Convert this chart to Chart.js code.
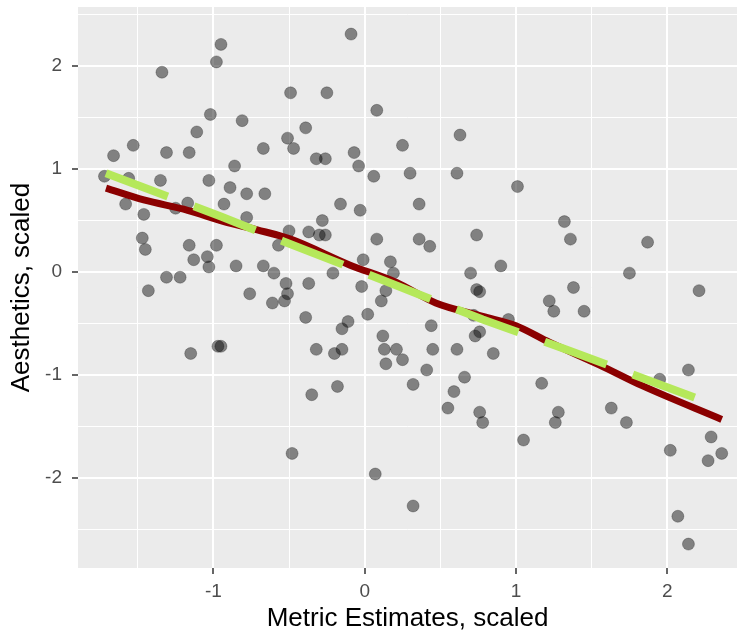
<!DOCTYPE html>
<html>
<head>
<meta charset="utf-8">
<script src="https://cdn.jsdelivr.net/npm/chart.js@4/dist/chart.umd.min.js"></script>
<style>
  html, body { margin: 0; padding: 0; background: #ffffff; }
  #wrap { width: 744px; height: 633px; }
</style>
</head>
<body>
<div id="wrap"><canvas id="c" width="744" height="633"></canvas></div>
<script>
// ---- data ----
const metricX = [
  -0.95,-0.98,-1.34,-0.49,-1.02,-0.81,-1.11,-0.51,-0.47,-1.53,-1.66,-1.31,-1.16,-0.67,-0.86,-1.72,-1.56,-1.35,-1.03,-0.89,-0.78,-0.66,
  -0.09,-0.25,0.08,-0.39,0.63,0.25,-0.32,-0.26,-0.07,-0.04,0.06,0.30,0.61,1.01,
  -1.58,-1.46,-1.25,-1.17,-0.93,-0.78,-0.50,-0.57,-1.47,-1.45,-1.16,-0.98,-1.13,-1.04,-1.03,-0.85,-0.67,-0.60,-1.31,-1.22,-0.52,-0.51,-0.53,-0.61,-0.76,-1.43,-0.97,-0.95,-1.15,
  -0.16,-0.03,0.36,-0.28,-0.37,-0.30,-0.26,0.08,0.36,0.43,0.74,-0.01,0.17,0.19,-0.21,-0.37,-0.02,0.14,0.11,0.70,0.90,0.74,0.76,
  -0.39,-0.11,-0.15,0.02,0.44,0.72,0.76,0.73,0.95,0.12,-0.32,-0.20,-0.15,0.13,0.21,0.25,0.14,0.45,0.61,0.85,0.41,0.66,0.32,-0.18,
  1.32,1.36,1.87,1.75,2.21,1.38,1.22,1.25,1.45,1.17,1.95,2.14,
  -0.48,-0.35,0.59,0.55,0.76,0.78,0.07,0.32,
  1.28,1.26,1.63,1.73,1.05,2.29,2.02,2.36,2.27,2.07,2.14
];
const aestheticsY = [
  2.21,2.04,1.94,1.74,1.53,1.47,1.36,1.30,1.20,1.23,1.13,1.16,1.16,1.20,1.03,0.93,0.91,0.89,0.89,0.82,0.76,0.76,
  2.31,1.74,1.57,1.40,1.33,1.23,1.10,1.10,1.16,1.03,0.93,0.96,0.96,0.83,
  0.66,0.56,0.62,0.67,0.66,0.53,0.40,0.26,0.33,0.22,0.26,0.26,0.12,0.15,0.05,0.06,0.06,-0.01,-0.05,-0.05,-0.11,-0.21,-0.28,-0.30,-0.21,-0.18,-0.72,-0.72,-0.79,
  0.66,0.60,0.66,0.50,0.39,0.36,0.36,0.32,0.32,0.25,0.36,0.12,0.10,-0.01,-0.01,-0.11,-0.14,-0.18,-0.28,-0.01,0.06,-0.17,-0.19,
  -0.44,-0.48,-0.55,-0.41,-0.52,-0.42,-0.58,-0.62,-0.46,-0.62,-0.75,-0.79,-0.75,-0.75,-0.75,-0.85,-0.89,-0.75,-0.75,-0.79,-0.95,-1.02,-1.09,-1.11,
  0.49,0.32,0.29,-0.01,-0.18,-0.15,-0.28,-0.38,-0.38,-1.08,-1.04,-0.95,
  -1.76,-1.19,-1.16,-1.32,-1.36,-1.46,-1.96,-2.27,
  -1.36,-1.46,-1.32,-1.46,-1.63,-1.60,-1.73,-1.76,-1.83,-2.37,-2.64
];
// smooth (dark red) curve
const smoothX = [-1.71,-1.46,-1.17,-0.93,-0.71,-0.49,-0.10,0.21,0.47,0.78,1.00,1.22,1.55,1.83,2.36];
const smoothY = [0.815,0.70,0.60,0.49,0.41,0.32,0.07,-0.10,-0.30,-0.43,-0.52,-0.68,-0.90,-1.10,-1.43];
// dashed (green) line
const dashX = [-1.71,-0.95,-0.54,0.21,0.78,1.35,2.33];
const dashY = [0.96,0.54,0.30,-0.13,-0.46,-0.76,-1.30];
// axis labels
const xTickLabels = [-1, 0, 1, 2];
const yTickLabels = [-2, -1, 0, 1, 2];
const xTitle = 'Metric Estimates, scaled';
const yTitle = 'Aesthetics, scaled';

// ---- build chart ----
const toXY = (xs, ys) => xs.map((x, i) => ({x: x, y: ys[i]}));

const panelBg = {
  id: 'panelBg',
  beforeDraw(chart) {
    const {ctx, chartArea: a} = chart;
    ctx.save();
    ctx.fillStyle = '#EBEBEB';
    ctx.fillRect(a.left, a.top, a.right - a.left, a.bottom - a.top);
    ctx.restore();
  }
};

const isMajor = (v, list) => list.some(t => Math.abs(t - v) < 1e-9);

function axisOpts(labels, title, titlePad, tickPad, fitFn, min, max) {
  return {
    type: 'linear',
    min: min, max: max,
    border: { display: false },
    grid: {
      color: '#FFFFFF',
      lineWidth: c => (c.tick && Math.abs(c.tick.value % 1) < 1e-9) ? 2 : 1,
      drawTicks: true,
      tickLength: 6,
      tickColor: c => (c.tick && isMajor(c.tick.value, labels)) ? '#333333' : 'rgba(0,0,0,0)',
      tickWidth: 1.5
    },
    ticks: {
      stepSize: 0.5,
      includeBounds: false,
      autoSkip: false,
      maxRotation: 0,
      padding: tickPad,
      color: '#4D4D4D',
      font: { family: '"Liberation Sans", Arial, sans-serif', size: 19 },
      callback: v => isMajor(v, labels) ? String(v) : ''
    },
    title: {
      display: true,
      text: title,
      color: '#000000',
      font: { family: '"Liberation Sans", Arial, sans-serif', size: 26, lineHeight: 1 },
      padding: titlePad
    },
    afterFit: s => {
      fitFn(s);
      s.paddingTop = 0; s.paddingBottom = 0; s.paddingLeft = 0; s.paddingRight = 0;
    }
  };
}

new Chart(document.getElementById('c'), {
  type: 'scatter',
  data: {
    datasets: [
      {
        type: 'line',
        data: toXY(dashX, dashY),
        borderColor: '#B5E85A',
        borderWidth: 8,
        borderDash: [66, 28],
        borderCapStyle: 'butt',
        pointRadius: 0,
        fill: false,
        tension: 0,
        order: 0
      },
      {
        type: 'line',
        data: toXY(smoothX, smoothY),
        borderColor: '#8B0000',
        borderWidth: 7,
        pointRadius: 0,
        fill: false,
        cubicInterpolationMode: 'monotone',
        order: 1
      },
      {
        data: toXY(metricX, aestheticsY),
        backgroundColor: 'rgba(0,0,0,0.45)',
        borderColor: 'rgba(0,0,0,0.25)',
        borderWidth: 1,
        pointRadius: 6,
        order: 2
      }
    ]
  },
  options: {
    responsive: false,
    animation: false,
    devicePixelRatio: 1,
    layout: { padding: { left: 0, right: 4, top: 5, bottom: 0 } },
    plugins: { legend: { display: false }, tooltip: { enabled: false } },
    scales: {
      x: axisOpts(xTickLabels, xTitle, { top: 0, bottom: 1 }, 6, s => { s.height = 65; }, -1.895, 2.461),
      y: axisOpts(yTickLabels, yTitle, { top: 9, bottom: 0 }, 10, s => { s.width = 78; }, -2.872, 2.573)
    }
  },
  plugins: [panelBg]
});
</script>
</body>
</html>
